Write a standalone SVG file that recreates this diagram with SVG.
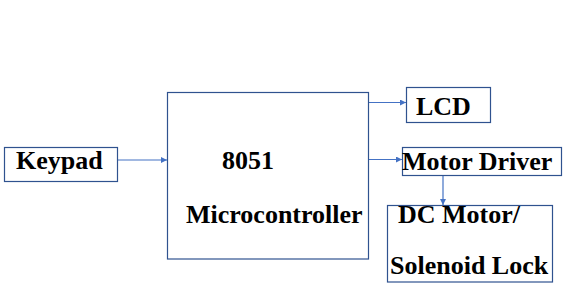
<svg xmlns="http://www.w3.org/2000/svg" width="566" height="297" viewBox="0 0 566 297">
  <style>
    .box { fill: #ffffff; stroke: #2f528f; stroke-width: 1.2; }
    .lbl { font-family: "Liberation Serif", "Times New Roman", serif; font-weight: bold; font-size: 26px; fill: #000000; }
    .wire { stroke: #4472c4; stroke-width: 1.2; fill: none; }
  </style>
  <defs>
    <marker id="arrow" viewBox="0 0 10 10" refX="10" refY="5" markerWidth="6" markerHeight="6" orient="auto" markerUnits="userSpaceOnUse">
      <path d="M0,0 L10,5 L0,10 z" fill="#4472c4"/>
    </marker>
  </defs>
  <rect width="566" height="297" fill="#ffffff"/>

  <g id="connectors">
    <line class="wire" x1="117" y1="160" x2="167" y2="160" marker-end="url(#arrow)"/>
    <line class="wire" x1="368" y1="102.5" x2="406" y2="102.5" marker-end="url(#arrow)"/>
    <line class="wire" x1="368" y1="159.5" x2="402" y2="159.5" marker-end="url(#arrow)"/>
    <line class="wire" x1="443" y1="175" x2="443" y2="205" marker-end="url(#arrow)"/>
  </g>

  <g id="keypad">
    <rect class="box" x="4.5" y="147.5" width="113" height="34"/>
    <text class="lbl" x="16" y="169">Keypad</text>
  </g>

  <g id="mcu">
    <rect class="box" x="167.5" y="92.5" width="201" height="166.5"/>
    <text class="lbl" x="222" y="169">8051</text>
    <text class="lbl" x="186" y="223">Microcontroller</text>
  </g>

  <g id="lcd">
    <rect class="box" x="406.5" y="87.5" width="84" height="35"/>
    <text class="lbl" x="416" y="115">LCD</text>
  </g>

  <g id="driver">
    <rect class="box" x="402.5" y="147.5" width="159" height="28"/>
    <text class="lbl" x="402" y="170">Motor Driver</text>
  </g>

  <g id="actuator">
    <rect class="box" x="387.5" y="205.5" width="165" height="76.5"/>
    <text class="lbl" x="398" y="223">DC Motor/</text>
    <text class="lbl" x="390" y="274">Solenoid Lock</text>
  </g>
</svg>
